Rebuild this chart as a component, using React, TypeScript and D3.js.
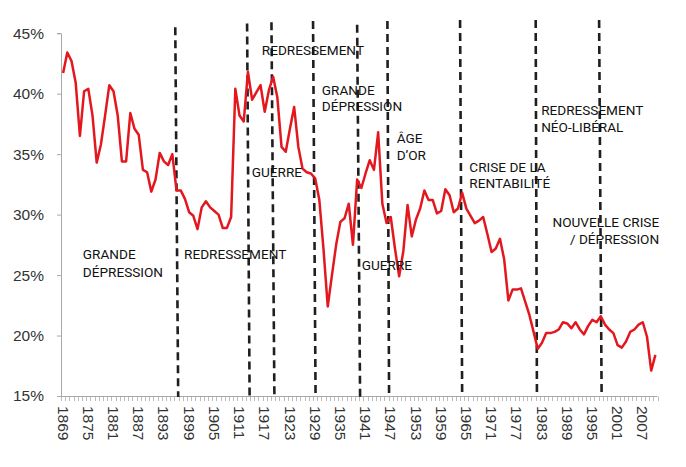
import React, {useEffect, useRef} from "react";
import * as d3 from "d3";

// taux de profit, one value per year from 1869 to 2010
const firstYear = 1869;
const lastYear = 2010;

const rate = [
  41.7, 43.4, 42.7, 40.9, 36.5, 40.2, 40.4, 38.2, 34.3, 35.8,
  38.2, 40.7, 40.2, 38.2, 34.4, 34.4, 38.4, 37.1, 36.6, 33.7,
  33.5, 31.9, 32.9, 35.1, 34.4, 34.1, 35.0, 32.0, 32.0, 31.3,
  30.2, 29.9, 28.8, 30.6, 31.1, 30.6, 30.3, 30.0, 28.9, 28.9,
  29.8, 40.4, 38.2, 37.7, 41.8, 39.5, 40.1, 40.7, 38.5, 40.3,
  41.4, 39.7, 35.6, 35.2, 37.1, 38.9, 35.6, 33.8, 33.5, 33.4,
  33.0, 31.2, 27.1, 22.4, 25.0, 27.5, 29.4, 29.7, 30.9, 27.5,
  32.9, 32.2, 33.4, 34.5, 33.7, 36.8, 30.9, 29.3, 29.8, 27.2,
  24.9, 27.0, 30.8, 28.2, 29.6, 30.5, 32.0, 31.2, 31.2, 30.1,
  30.3, 32.1, 31.6, 30.2, 30.5, 31.8, 30.5, 29.9, 29.3, 29.5,
  29.8, 28.4, 26.9, 27.2, 28.0, 26.3, 22.9, 23.8, 23.8, 23.9,
  22.8, 21.7, 20.3, 18.9, 19.4, 20.2, 20.2, 20.3, 20.5, 21.1,
  21.0, 20.6, 21.1, 20.5, 20.1, 20.8, 21.3, 21.1, 21.6, 20.9,
  20.5, 20.2, 19.2, 19.0, 19.5, 20.3, 20.5, 20.9, 21.1, 19.9,
  17.1, 18.4,
];

const yTicks = [15, 20, 25, 30, 35, 40, 45];
const xLabelYears = d3.range(1869, 2011, 6);

// hand drawn period boundaries (year at the top, year at the bottom)
const periodTop = [1895.7, 1912.8, 1918.6, 1928.5, 1939.0, 1946.2, 1963.5, 1981.5, 1996.6];
const periodBottom = [1896.4, 1913.4, 1919.3, 1929.1, 1939.7, 1946.6, 1964.0, 1981.8, 1997.2];
const periodTopValue = [45.5, 45.8, 45.9, 46.0, 45.7, 46.0, 46.1, 46.1, 46.1];

// period names: lines, year of the anchor, value of the first baseline
const periodNames = [
  {lines: ["GRANDE", "DÉPRESSION"], year: 1873.7, value: 26.3, anchor: "start", gap: 18},
  {lines: ["REDRESSEMENT"], year: 1897.8, value: 26.3, anchor: "start", gap: 0},
  {lines: ["REDRESSEMENT"], year: 1916.3, value: 43.2, anchor: "start", gap: 0},
  {lines: ["GUÈRRE"], year: 1913.9, value: 33.1, anchor: "start", gap: 0},
  {lines: ["GRANDE", "DÉPRESSION"], year: 1930.6, value: 39.9, anchor: "start", gap: 16},
  {lines: ["GUERRE"], year: 1940.1, value: 25.4, anchor: "start", gap: 0},
  {lines: ["ÂGE", "D’OR"], year: 1948.4, value: 35.9, anchor: "start", gap: 16.5},
  {lines: ["CRISE DE LA", "RENTABILITÉ"], year: 1965.7, value: 33.5, anchor: "start", gap: 16},
  {lines: ["REDRESSEMENT", "NÉO-LIBÉRAL"], year: 1982.8, value: 38.2, anchor: "start", gap: 17},
  {lines: ["NOUVELLE CRISE", "/ DÉPRESSION"], year: 2010.9, value: 29.0, anchor: "end", gap: 17},
];

function createChart(container: SVGSVGElement) {
  const svg = d3.select(container);
  svg.selectAll("*").remove();

  const years = d3.range(firstYear, lastYear + 1);
  const x = d3.scaleBand<number>().domain(years).range([61, 657.5]).padding(0);
  const xc = (yr: number) => (x(yr) as number) + x.bandwidth() / 2;
  // continuous version of the year axis for the annotations
  const xYear = d3
    .scaleLinear()
    .domain([firstYear, lastYear])
    .range([xc(firstYear), xc(lastYear)]);
  const y = d3.scaleLinear().domain([15, 45]).range([396, 33.2]);

  const axisColor = "#a9a9a9";
  const labelColor = "#333";

  // y axis
  const yAxis = svg
    .append("g")
    .attr("transform", "translate(61,0)")
    .call(
      d3
        .axisLeft(y)
        .tickValues(yTicks)
        .tickSize(4)
        .tickPadding(13)
        .tickFormat((d) => `${d}%`)
    );
  yAxis.select(".domain").attr("stroke", axisColor).attr("stroke-width", 1);
  yAxis.selectAll(".tick line").attr("stroke", axisColor);
  yAxis
    .selectAll(".tick text")
    .attr("fill", labelColor)
    .attr("font-family", "'Liberation Sans', Arial, sans-serif")
    .attr("font-size", 15.5);

  // x axis: line, a tick at every category edge, labels every 6 years
  svg
    .append("line")
    .attr("x1", 61)
    .attr("x2", 657.5)
    .attr("y1", 396.5)
    .attr("y2", 396.5)
    .attr("stroke", axisColor);

  svg
    .append("g")
    .selectAll("line")
    .data(years.concat([lastYear + 1]))
    .enter()
    .append("line")
    .attr("x1", (d) => Math.round(61 + (d - firstYear) * x.step()) + 0.5)
    .attr("x2", (d) => Math.round(61 + (d - firstYear) * x.step()) + 0.5)
    .attr("y1", 396.5)
    .attr("y2", 401)
    .attr("stroke", axisColor)
    .attr("stroke-width", 0.8);

  svg
    .append("g")
    .selectAll("text")
    .data(xLabelYears)
    .enter()
    .append("text")
    .attr("transform", (d) => `translate(${xc(d)},406) rotate(90)`)
    .attr("dy", "0.35em")
    .attr("text-anchor", "start")
    .attr("fill", labelColor)
    .attr("font-family", "'Liberation Sans', Arial, sans-serif")
    .attr("font-size", 15.5)
    .text((d) => d);

  // period boundaries
  svg
    .append("g")
    .selectAll("line")
    .data(periodTop)
    .enter()
    .append("line")
    .attr("x1", (d) => xYear(d))
    .attr("y1", (d, i) => y(periodTopValue[i]))
    .attr("x2", (d, i) => xYear(periodBottom[i]))
    .attr("y2", 397)
    .attr("stroke", "#1f1f1f")
    .attr("stroke-width", 2.6)
    .attr("stroke-dasharray", "8,5");

  // the series
  const line = d3
    .line<number>()
    .x((d, i) => xc(years[i]))
    .y((d) => y(d));

  svg
    .append("path")
    .datum(rate)
    .attr("d", line)
    .attr("fill", "none")
    .attr("stroke", "#e3181f")
    .attr("stroke-width", 2.5)
    .attr("stroke-linejoin", "round");

  // period names
  const names = svg
    .append("g")
    .attr("font-family", "Roboto, sans-serif")
    .attr("font-size", 13.6)
    .attr("fill", "#111");

  periodNames.forEach((p) => {
    const t = names
      .append("text")
      .attr("x", xYear(p.year))
      .attr("y", y(p.value))
      .attr("text-anchor", p.anchor);
    p.lines.forEach((l, i) => {
      t.append("tspan")
        .attr("x", xYear(p.year))
        .attr("dy", i === 0 ? 0 : p.gap)
        .text(l);
    });
  });
}

export default function App() {
  const ref = useRef<SVGSVGElement>(null);

  useEffect(() => {
    if (ref.current) createChart(ref.current);
  }, []);

  return (
    <div style={{position: "fixed", left: 0, top: 0}}>
      <svg ref={ref} width={686} height={467} style={{display: "block", background: "#fff"}} />
    </div>
  );
}
